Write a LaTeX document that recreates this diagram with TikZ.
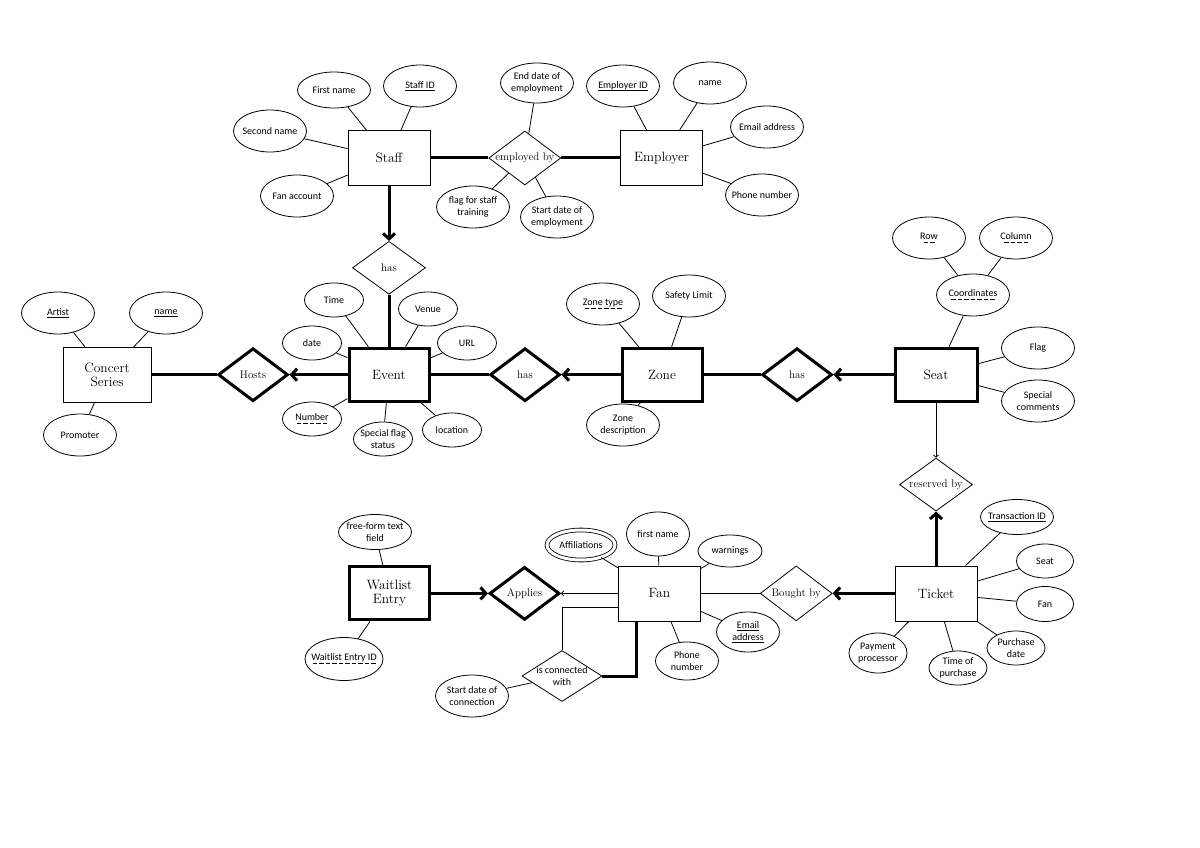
\documentclass[tikz,border=0pt]{standalone}
\usepackage{fontspec}
\usetikzlibrary{positioning, shapes.geometric, arrows.meta}
\newfontfamily\attrfont{Carlito}
\newsavebox\keybox
\newcommand\solidkey[1]{\sbox\keybox{#1}\leavevmode\rlap{\lower2.2pt\hbox to\wd\keybox{\leaders\vrule height .6pt depth 0pt\hfill}}\usebox\keybox}
\newcommand\dashkey[1]{\sbox\keybox{#1}\leavevmode\rlap{\lower3pt\hbox to\wd\keybox{\cleaders\hbox to 6.5pt{\hss\vrule width 4.5pt height .7pt depth 0pt\hss}\hfill}}\usebox\keybox}

\tikzset{
  ent/.style={draw, line width=0.8pt, minimum width=82pt, minimum height=55pt, align=center, font=\fontsize{13.5}{14.5}\selectfont},
  went/.style={ent, line width=3pt, minimum width=80pt, minimum height=53pt},
  rel/.style={draw, diamond, aspect=1.33, inner sep=-1pt, line width=0.8pt, minimum width=72pt, minimum height=54pt, align=center, font=\fontsize{11}{12}\selectfont},
  wrel/.style={rel, line width=3pt, minimum width=70pt, minimum height=53pt},
  attr/.style={draw, ellipse, line width=0.8pt, inner xsep=-12pt, inner ysep=0pt, minimum width=73pt, minimum height=42pt, align=center, font=\attrfont\fontsize{10}{12}\selectfont},
  small/.style={minimum width=59pt, minimum height=34pt},
  link/.style={line width=0.8pt},
  bold/.style={line width=3pt},
}

\begin{document}
\begin{tikzpicture}[x=1pt, y=-1pt, >={Straight Barb[length=1pt 1.5, width=3pt 3]}]
  \useasboundingbox (0,0) rectangle (1200,848);

  % entities and relationships
  \node[ent] (staff) at (389,158) {Staff};
  \node[rel, right=58pt of staff] (empby) {employed by};
  \node[ent, right=59pt of empby] (employer) {Employer};
  \node[rel, below=55pt of staff, minimum width=73pt, minimum height=53pt] (shas) {has};
  \node[went, below=52pt of shas] (event) {Event};
  \node[wrel, left=58pt of event] (hosts) {Hosts};
  \node[ent, left=65pt of hosts, minimum width=88pt] (series) {Concert\\Series};
  \node[wrel, right=58pt of event] (ezhas) {has};
  \node[went, right=59pt of ezhas] (zone) {Zone};
  \node[wrel, right=57pt of zone] (zshas) {has};
  \node[went, right=60pt of zshas, minimum width=82pt] (seat) {Seat};
  \node[rel, below=55pt of seat, minimum width=73pt, minimum height=53pt] (resby) {reserved by};
  \node[ent, below=54pt of resby] (ticket) {Ticket};
  \node[rel, left=62pt of ticket, minimum height=55pt] (bought) {Bought by};
  \node[ent, left=59pt of bought] (fan) {Fan};
  \node[wrel, left=57pt of fan] (applies) {Applies};
  \node[went, left=57pt of applies] (wait) {Waitlist\\Entry};
  \node[rel, minimum width=80pt, minimum height=51pt, inner sep=-4pt, font=\attrfont\fontsize{10}{12}\selectfont] (conn) at (562,676) {is connected\\with};

  % attributes
  \node[attr, minimum height=36pt] (fname) at (334,90) {First name};
  \node[attr] (sid) at (420,86) {\solidkey{Staff ID}};
  \node[attr] (sname) at (270,131) {Second name};
  \node[attr] (facc) at (297,196) {Fan account};
  \node[attr, minimum height=40pt] (enddate) at (537,83) {End date of\\employment};
  \node[attr] (trainflag) at (473,207) {flag for staff\\training};
  \node[attr] (startdate) at (557,217) {Start date of\\employment};
  \node[attr] (eid) at (623,86) {\solidkey{Employer ID}};
  \node[attr] (ename) at (710,83) {name};
  \node[attr] (eemail) at (767,127) {Email address};
  \node[attr] (ephone) at (762,195) {Phone number};

  \node[attr] (artist) at (58,313) {\solidkey{Artist}};
  \node[attr] (csname) at (166,313) {\solidkey{name}};
  \node[attr] (promoter) at (80,435) {Promoter};

  \node[attr, small] (time) at (334,300) {Time};
  \node[attr, small] (venue) at (428,309) {Venue};
  \node[attr, small] (date) at (312,343) {date};
  \node[attr, small] (url) at (467,343) {URL};
  \node[attr, small] (number) at (312,419) {\dashkey{Number}};
  \node[attr, small] (spflag) at (383,439) {Special flag\\status};
  \node[attr, small] (loc) at (452,430) {location};

  \node[attr] (ztype) at (603,304) {\dashkey{Zone type}};
  \node[attr] (safety) at (689,296) {Safety Limit};
  \node[attr] (zdesc) at (623,425) {Zone\\description};

  \node[attr] (row) at (929,238) {\dashkey{Row}};
  \node[attr] (col) at (1016,238) {\dashkey{Column}};
  \node[attr] (coord) at (973,295) {\dashkey{Coordinates}};
  \node[attr] (sflag) at (1038,348) {Flag};
  \node[attr] (scomm) at (1038,401) {Special\\comments};

  \node[attr, minimum height=35pt] (tid) at (1017,517) {\solidkey{Transaction ID}};
  \node[attr, minimum width=57pt, minimum height=34pt] (tseat) at (1045,561) {Seat};
  \node[attr, minimum width=57pt, minimum height=35pt] (tfan) at (1045,604) {Fan};
  \node[attr, small, minimum width=58pt] (pdate) at (1016,648) {Purchase\\date};
  \node[attr, small, minimum width=58pt] (ptime) at (958,668) {Time of\\purchase};
  \node[attr, minimum width=58pt, minimum height=40pt] (pproc) at (878,653) {Payment\\processor};

  \node[attr, double, double distance=3pt, minimum width=68pt, minimum height=30pt] (affil) at (581,545) {Affiliations};
  \node[attr, minimum width=63pt, minimum height=44pt] (ffirst) at (658,534) {first name};
  \node[attr, minimum width=64pt, minimum height=32pt] (warn) at (730,551) {warnings};
  \node[attr, minimum width=63pt, minimum height=40pt] (femail) at (748,632) {\solidkey{Email}\\\solidkey{address}};
  \node[attr, minimum width=63pt, minimum height=38pt] (fphone) at (687,661) {Phone\\number};

  \node[attr, minimum height=35pt] (freetext) at (375,532) {free-form text\\field};
  \node[attr, minimum width=78pt, minimum height=43pt] (wid) at (344,659) {\dashkey{Waitlist Entry ID}};
  \node[attr] (cstart) at (472,696) {Start date of\\connection};

  % relationship lines
  \draw[bold] (staff) -- (empby);
  \draw[bold] (empby) -- (employer);
  \draw[bold,->] (staff) -- (shas);
  \draw[bold] (shas) -- (event);
  \draw[bold] (series) -- (hosts);
  \draw[bold,->] (event) -- (hosts);
  \draw[bold] (event) -- (ezhas);
  \draw[bold,->] (zone) -- (ezhas);
  \draw[bold] (zone) -- (zshas);
  \draw[bold,->] (seat) -- (zshas);
  \draw[link,->] (seat) -- (resby);
  \draw[bold,->] (ticket) -- (resby);
  \draw[bold,->] (ticket) -- (bought);
  \draw[link] (fan) -- (bought);
  \draw[link,->] (fan) -- (applies);
  \draw[bold,->] (wait) -- (applies);
  \draw[link] ([yshift=-14pt]fan.west) -| (conn.north);
  \draw[bold] ([xshift=-23pt]fan.south) |- (conn.east);

  % attribute lines
  \draw[link] (fname) -- (staff);
  \draw[link] (sid) -- (staff);
  \draw[link] (sname) -- (staff);
  \draw[link] (facc) -- (staff);
  \draw[link] (enddate) -- (empby);
  \draw[link] (trainflag) -- (empby);
  \draw[link] (startdate) -- (empby);
  \draw[link] (eid) -- (employer);
  \draw[link] (ename) -- (employer);
  \draw[link] (eemail) -- (employer);
  \draw[link] (ephone) -- (employer);
  \draw[link] (artist) -- (series);
  \draw[link] (csname) -- (series);
  \draw[link] (promoter) -- (series);
  \draw[link] (time) -- (event);
  \draw[link] (venue) -- (event);
  \draw[link] (date) -- (event);
  \draw[link] (url) -- (event);
  \draw[link] (number) -- (event);
  \draw[link] (spflag) -- (event);
  \draw[link] (loc) -- (event);
  \draw[link] (ztype) -- (zone);
  \draw[link] (safety) -- (zone);
  \draw[link] (zdesc) -- (zone);
  \draw[link] (row) -- (coord);
  \draw[link] (col) -- (coord);
  \draw[link] (coord) -- (seat);
  \draw[link] (sflag) -- (seat);
  \draw[link] (scomm) -- (seat);
  \draw[link] (tid) -- (ticket);
  \draw[link] (tseat) -- (ticket);
  \draw[link] (tfan) -- (ticket);
  \draw[link] (pdate) -- (ticket);
  \draw[link] (ptime) -- (ticket);
  \draw[link] (pproc) -- (ticket);
  \draw[link] (affil) -- (fan);
  \draw[link] (ffirst) -- (fan);
  \draw[link] (warn) -- (fan);
  \draw[link] (femail) -- (fan);
  \draw[link] (fphone) -- (fan);
  \draw[link] (freetext) -- (wait);
  \draw[link] (wid) -- (wait);
  \draw[link] (cstart) -- (conn);
\end{tikzpicture}
\end{document}
